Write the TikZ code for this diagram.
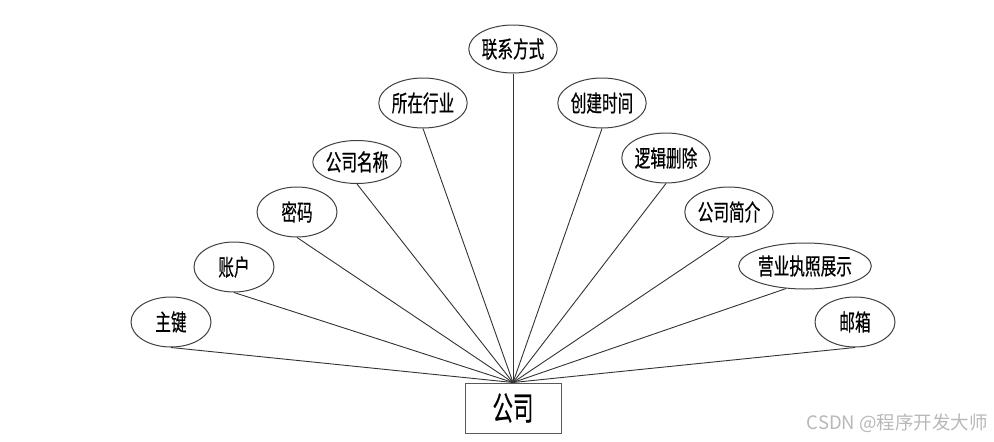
\documentclass[tikz,border=0pt]{standalone}
\usepackage{fontspec}
\usepackage{graphicx}
\setmainfont{Noto Sans CJK SC}
\newfontfamily\cjk[FakeBold=0.6]{Noto Sans CJK SC}
\newfontfamily\cjkwm{Noto Sans CJK SC}
\usetikzlibrary{shapes.geometric}
\tikzset{
  attr/.style={draw=black!75, line width=1pt, ellipse, minimum width=80pt, minimum height=50pt, inner sep=0pt, font=\cjk\fontsize{23}{23}\selectfont},
  ent/.style={draw=black!65, line width=1pt, rectangle, minimum width=96pt, minimum height=50pt, inner sep=0pt, font=\cjk\fontsize{33}{33}\selectfont},
  link/.style={draw=black!80, line width=0.9pt}
}
\newcommand{\nar}[1]{\scalebox{0.68}[1]{#1}}
\begin{document}
\begin{tikzpicture}[x=1pt,y=-1pt]
\useasboundingbox (0,0) rectangle (994,442);
\node[ent] (co) at (513,408) {\scalebox{0.62}[1]{公司}};
\node[attr] (a1) at (171,322) {\nar{主键}};
\node[attr] (a2) at (234,267) {\nar{账户}};
\node[attr] (a3) at (297,212) {\nar{密码}};
\node[attr, minimum width=74pt, minimum height=43pt] (a4) at (357,162) {\nar{公司名称}};
\node[attr] (a5) at (423,103) {\nar{所在行业}};
\node[attr, minimum height=48pt] (a6) at (513,49) {\nar{联系方式}};
\node[attr] (a7) at (602,103) {\nar{创建时间}};
\node[attr] (a8) at (666,158) {\nar{逻辑删除}};
\node[attr] (a9) at (729,212) {\nar{公司简介}};
\node[attr, minimum width=106pt, minimum height=46pt] (a10) at (805,266) {\nar{营业执照展示}};
\node[attr] (a11) at (855,322) {\nar{邮箱}};
\foreach \a in {a1,a2,a3,a4,a5,a6,a7,a8,a9,a11}
  \draw[link] (co.north) -- (\a.south);
\draw[link] (co.north) -- (a10.-130);
\node[anchor=east, text=black!28, font=\cjkwm\fontsize{18.5}{18.5}\selectfont, inner sep=0pt] (wm) at (988,423) {CSDN @程序开发大师};
\end{tikzpicture}
\end{document}
